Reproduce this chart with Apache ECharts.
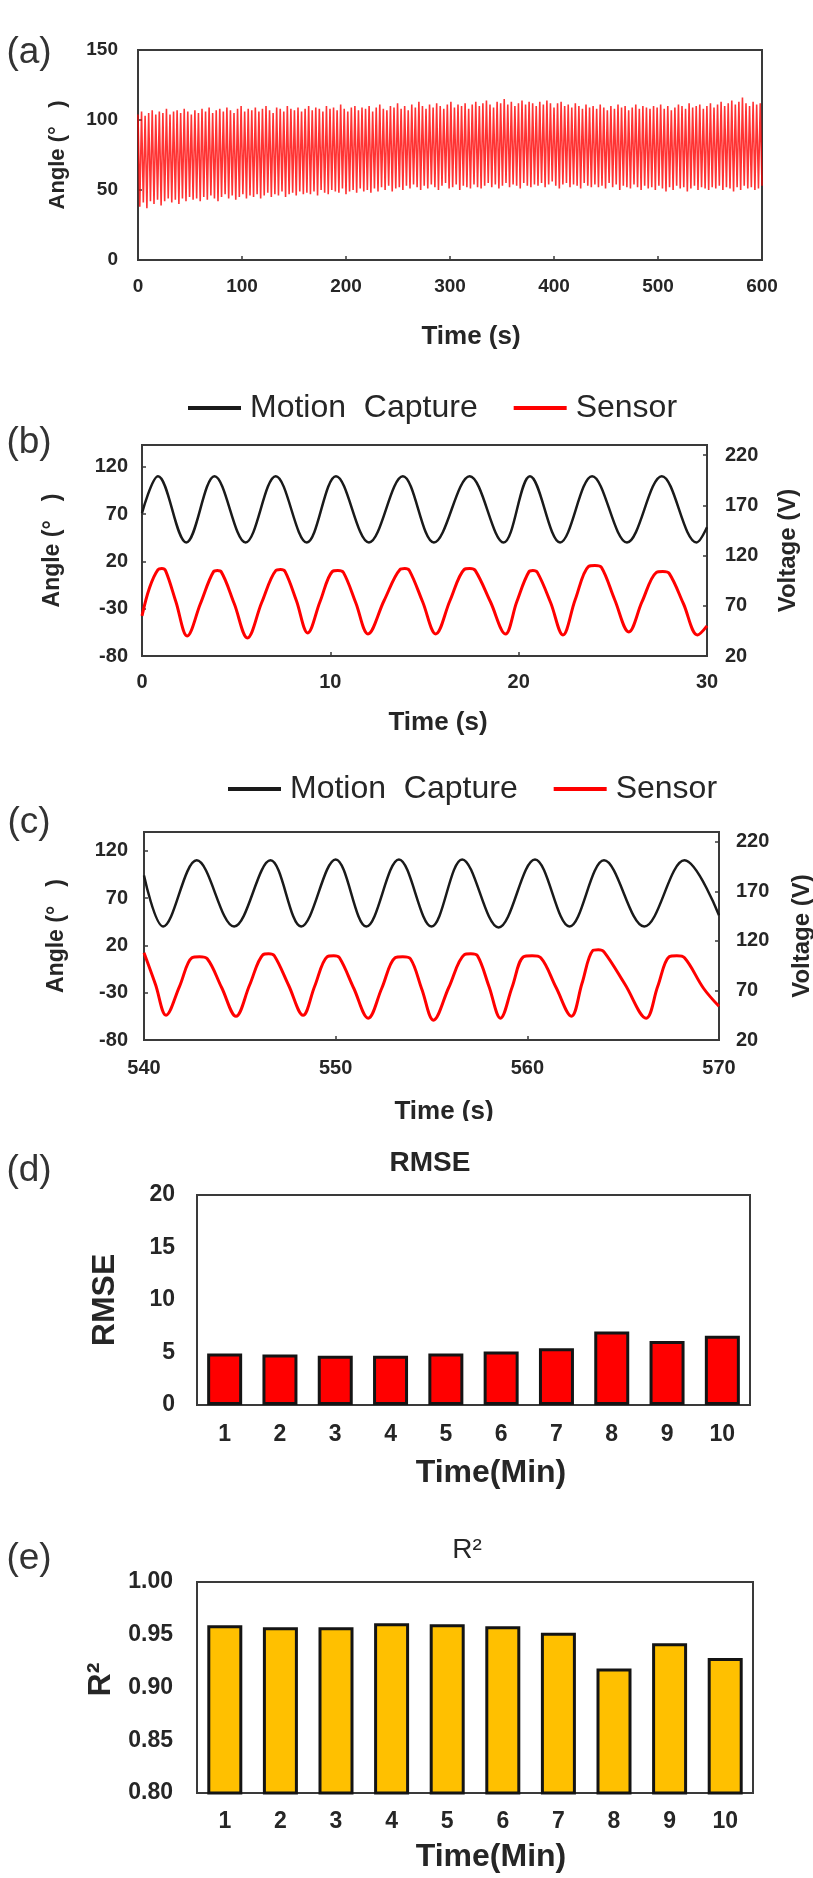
<!DOCTYPE html>
<html><head><meta charset="utf-8">
<script src="https://cdn.jsdelivr.net/npm/echarts@6/dist/echarts.min.js"></script>
<style>html,body{margin:0;padding:0;background:#fff}#c{width:813px;height:1878px}</style>
</head><body><div id="c"></div>
<script>
// ---------- (a) long recording: alternating peak / trough values per cycle ----------
const aDuration = 600;
const aPeaks = [
104,106,103,105,107,104,106,105,108,104,106,107,105,108,106,104,
107,105,108,106,109,105,107,108,106,109,107,105,108,110,106,108,
107,109,106,108,110,107,105,109,108,106,110,108,107,109,106,108,
110,107,109,108,106,110,108,109,107,111,108,106,109,110,107,109,
108,110,106,109,111,108,107,110,109,112,108,110,107,111,109,113,
110,108,111,109,112,110,108,111,113,109,111,110,112,108,111,113,
110,112,114,111,109,113,112,115,111,113,110,112,114,111,113,112,
110,113,111,114,112,109,112,113,110,111,109,112,110,108,111,109,
110,108,111,109,107,110,108,111,109,110,107,109,111,108,110,109,
108,110,109,111,108,110,107,109,111,110,108,112,109,110,111,108,
110,112,109,111,113,110,112,114,111,113,116,112,110,113,111,112];
const aTroughs = [
38,41,37,42,40,43,39,42,44,41,43,40,44,42,45,43,
44,42,45,43,46,44,42,45,47,44,46,43,45,47,44,46,
45,47,44,46,48,45,47,46,49,45,47,48,46,49,47,48,
47,49,46,50,48,47,50,49,48,51,47,49,50,48,51,49,
50,48,51,49,52,50,53,49,51,52,50,53,51,54,52,50,
53,51,54,52,50,53,55,51,52,54,50,53,52,51,54,52,
51,53,55,52,54,51,53,55,52,54,53,51,55,53,52,54,
53,55,52,54,56,53,51,54,55,52,54,53,51,55,53,52,
54,52,53,51,55,52,54,50,53,52,51,54,52,50,53,51,
52,50,53,51,49,52,50,53,51,52,49,51,53,50,52,51,
50,52,51,53,50,52,51,49,52,50,53,51,52,50,51,53];

// ---------- (b) 0-30 s ----------
const bMotionT = [0,0.85,2.35,3.85,5.5,7.1,8.75,10.3,12.05,13.85,15.5,17.4,19.2,20.6,22.2,23.9,25.75,27.6,29.45,30];
const bMotionV = [71,110,40,110,40,110,40,110,40,110,40,110,40,110,40,110,40,110,40,56];
const bSensorT = [0,0.4,0.85,1.05,1.25,1.8,2.4, 3.1,3.8,4.0,4.2,4.9,5.6, 6.35,7.1,7.35,7.6,8.2,8.8,
  9.45,10.1,10.4,10.7,11.35,12.0, 12.85,13.7,13.95,14.2,14.9,15.6, 16.35,17.1,17.4,17.7,18.5,19.3,
  19.9,20.55,20.75,21.0,21.7,22.35, 23.0,23.7,24.05,24.4,25.1,25.85, 26.55,27.3,27.65,28.0,28.75,29.5, 30];
const bSensorV = [60,88,106,107,105,74,40, 72,104,105,104,72,38, 73,105,106,104,75,43,
  74,104,105,103,73,42, 75,106,107,105,74,42, 75,106,107,105,74,42,
  74,104,105,103,73,41, 76,109,110,108,76,44, 74,103,104,102,72,41, 50];

// ---------- (c) 540-570 s ----------
const cMotionT = [540,541.0,542.75,544.7,546.6,548.2,550.0,551.6,553.3,555.0,556.6,558.5,560.4,562.2,564.0,566.1,568.2,570];
const cMotionV = [94,40,110,40,110,40,111,40,111,40,111,39,111,40,110,40,110,52];
const cSensorT = [540,540.6,541.15, 541.85,542.5,542.9,543.3,544.05,544.8, 545.5,546.2,546.5,546.8,547.55,548.3,
  548.9,549.55,549.9,550.2,550.95,551.7, 552.4,553.1,553.5,553.9,554.5,555.1, 555.9,556.7,557.05,557.4,558.0,558.6,
  559.2,559.8,560.25,560.7,561.5,562.3, 562.85,563.4,563.7,564.0,565.1,566.2, 566.8,567.4,567.8,568.2,569.2,570];
const cSensorV = [108,76,45, 74,103,104,102,73,44, 75,106,107,105,75,45,
  74,104,105,103,72,42, 72,103,104,102,71,40, 73,106,107,105,74,42,
  73,104,105,103,73,44, 77,110,111,109,76,42, 74,104,105,103,72,54];

// ---------- (d), (e) ----------
const minutes = ['1','2','3','4','5','6','7','8','9','10'];
const rmse = [4.9,4.8,4.7,4.7,4.9,5.1,5.4,7.0,6.1,6.6];
const r2 = [0.959,0.957,0.957,0.961,0.960,0.958,0.952,0.918,0.942,0.928];

// tick / label texts
const legendNames = ['Motion Capture','Sensor'];
const panelLabels = ['(a)','(b)','(c)','(d)','(e)'];

// ---------- build ----------
const FONT = "'Liberation Sans', Arial, sans-serif";
const TXT = '#262626';
const BORDER = '#3a3a3a';

function pairs(t, v){ return t.map((x,i)=>[x, v[i]]); }
const aHalf = aDuration / (aPeaks.length + aTroughs.length - 1);
const aData = [];
for (let i = 0; i < aPeaks.length; i++) {
  aData.push([2*i*aHalf, aPeaks[i]]);
  aData.push([(2*i+1)*aHalf, aTroughs[i]]);
}

const gridBox = [
  {left:138, top:50,   width:624, height:210},
  {left:142, top:445,  width:565, height:211},
  {left:144, top:832,  width:575, height:208},
  {left:197, top:1195, width:553, height:210},
  {left:197, top:1582, width:556, height:211}
].map(g => Object.assign({show:true, borderColor:BORDER, borderWidth:2, backgroundColor:'transparent', containLabel:false, outerBoundsMode:'none'}, g));

const lab = (size, margin, extra) => Object.assign({fontSize:size, fontWeight:'bold', color:TXT, fontFamily:FONT, margin:margin}, extra||{});
const tick = {inside:true, length:4, lineStyle:{color:BORDER, width:1.5}};
const noLine = {show:false, onZero:false};
const nameStyle = (size, pad, weight) => ({fontSize:size, fontWeight:weight||'bold', color:TXT, fontFamily:FONT, padding:pad});

const xAxis = [
  {gridIndex:0, type:'value', min:0, max:600, interval:100, axisLine:noLine, axisTick:tick, splitLine:{show:false},
   axisLabel:lab(19,17), name:'Time (s)', nameLocation:'middle', nameGap:64, nameTextStyle:nameStyle(26,[0,0,0,42])},
  {gridIndex:1, type:'value', min:0, max:30, interval:10, axisLine:noLine, axisTick:tick, splitLine:{show:false},
   axisLabel:lab(20,16), name:'Time (s)', nameLocation:'middle', nameGap:54, nameTextStyle:nameStyle(26,[0,0,0,27])},
  {gridIndex:2, type:'value', min:540, max:570, interval:10, axisLine:noLine, axisTick:tick, splitLine:{show:false},
   axisLabel:lab(20,18), name:'Time (s)', nameLocation:'middle', nameGap:59, nameTextStyle:nameStyle(26,[0,0,0,25])},
  {gridIndex:3, type:'category', data:minutes, boundaryGap:true, axisLine:noLine, axisTick:{show:false},
   axisLabel:lab(23,18), name:'Time(Min)', nameLocation:'middle', nameGap:52, nameTextStyle:nameStyle(32,[0,0,0,35])},
  {gridIndex:4, type:'category', data:minutes, boundaryGap:true, axisLine:noLine, axisTick:{show:false},
   axisLabel:lab(23,17), name:'Time(Min)', nameLocation:'middle', nameGap:48, nameTextStyle:nameStyle(32,[0,0,0,32])}
];
const yAxis = [
  {gridIndex:0, type:'value', min:0, max:150, interval:50, axisLine:noLine, axisTick:tick, splitLine:{show:false},
   axisLabel:lab(19,20), name:'Angle (°   )', nameLocation:'middle', nameRotate:90, nameGap:69, nameTextStyle:nameStyle(22,[0,0,0,0])},
  {gridIndex:1, type:'value', min:-80, max:143, interval:50, axisLine:noLine, axisTick:tick, splitLine:{show:false},
   axisLabel:lab(20,14,{showMaxLabel:false}), name:'Angle (°   )', nameLocation:'middle', nameRotate:90, nameGap:78, nameTextStyle:nameStyle(23,[0,0,0,0])},
  {gridIndex:1, type:'value', position:'right', min:20, max:230, interval:50, axisLine:noLine, axisTick:tick, splitLine:{show:false},
   axisLabel:lab(20,18,{showMaxLabel:false}), name:'Voltage (V)', nameLocation:'middle', nameRotate:90, nameGap:69, nameTextStyle:nameStyle(24,[0,0,0,0])},
  {gridIndex:2, type:'value', min:-80, max:140, interval:50, axisLine:noLine, axisTick:tick, splitLine:{show:false},
   axisLabel:lab(20,16,{showMaxLabel:false}), name:'Angle (°   )', nameLocation:'middle', nameRotate:90, nameGap:76, nameTextStyle:nameStyle(23,[0,0,0,0])},
  {gridIndex:2, type:'value', position:'right', min:20, max:230, interval:50, axisLine:noLine, axisTick:tick, splitLine:{show:false},
   axisLabel:lab(20,17,{showMaxLabel:false}), name:'Voltage (V)', nameLocation:'middle', nameRotate:90, nameGap:71, nameTextStyle:nameStyle(24,[0,0,0,0])},
  {gridIndex:3, type:'value', min:0, max:20, interval:5, axisLine:noLine, axisTick:tick, splitLine:{show:false},
   axisLabel:lab(23,22), name:'RMSE', nameLocation:'middle', nameRotate:90, nameGap:76, nameTextStyle:nameStyle(32,[0,0,0,0])},
  {gridIndex:4, type:'value', min:0.8, max:1.0, interval:0.05, axisLine:noLine, axisTick:tick, splitLine:{show:false},
   axisLabel:lab(23,24,{formatter:v=>v.toFixed(2)}), name:'R²', nameLocation:'middle', nameRotate:90, nameGap:76, nameTextStyle:nameStyle(32,[0,0,0,16])}
];

const lineS = (name, x, y, data, color, width) => ({
  name, type:'line', xAxisIndex:x, yAxisIndex:y, data, showSymbol:false, symbol:'none', smooth:0.36,
  color, itemStyle:{color}, lineStyle:{color, width}, silent:true, animation:false, clip:true
});

const series = [
  {name:'Long', type:'line', xAxisIndex:0, yAxisIndex:0, data:aData, showSymbol:false, symbol:'none',
   lineStyle:{color:'rgba(255,0,0,0.8)', width:1.6}, silent:true, animation:false, sampling:null},
  lineS(legendNames[0], 1, 1, pairs(bMotionT, bMotionV), '#1a1a1a', 2.5),
  lineS(legendNames[1], 1, 2, pairs(bSensorT, bSensorV), '#ff0000', 3),
  lineS(legendNames[0], 2, 3, pairs(cMotionT, cMotionV), '#1a1a1a', 2.5),
  lineS(legendNames[1], 2, 4, pairs(cSensorT, cSensorV), '#ff0000', 3),
  {name:'RMSE', type:'bar', xAxisIndex:3, yAxisIndex:5, data:rmse, barWidth:35,
   itemStyle:{color:'#ff0000', borderColor:'#141414', borderWidth:3}, silent:true, animation:false},
  {name:'R2', type:'bar', xAxisIndex:4, yAxisIndex:6, data:r2, barWidth:35,
   itemStyle:{color:'#ffc000', borderColor:'#141414', borderWidth:3}, silent:true, animation:false}
];

const legendBase = (left, top) => ({
  left, top, data:legendNames, icon:'rect', itemWidth:53, itemHeight:4, itemGap:36, selectedMode:false,
  formatter: n => n === 'Motion Capture' ? 'Motion  Capture' : n,
  textStyle:{fontSize:32, color:TXT, fontFamily:FONT, padding:[0,0,0,4]}
});

const letterPos = [[29,53],[29,443],[29,823],[29,1171],[29,1559]];
const graphic = panelLabels.map((t,i)=>({
  type:'text', x:letterPos[i][0], y:letterPos[i][1], z:50,
  style:{text:t, fontSize:37, fontFamily:FONT, fill:'#333', align:'center', verticalAlign:'middle', textAlign:'center', textVerticalAlign:'middle'}
}));
graphic.push({type:'text', x:430, y:1163, z:50,
  style:{text:'RMSE', fontSize:28, fontWeight:'bold', fontFamily:FONT, fill:TXT, align:'center', verticalAlign:'middle', textAlign:'center', textVerticalAlign:'middle'}});
graphic.push({type:'text', x:467, y:1550, z:50,
  style:{text:'R²', fontSize:28, fontFamily:FONT, fill:TXT, align:'center', verticalAlign:'middle', textAlign:'center', textVerticalAlign:'middle'}});
// the reference's (c) x-axis title is clipped at its bottom edge
graphic.push({type:'rect', z:60, shape:{x:370, y:1121, width:160, height:20}, style:{fill:'#ffffff'}});

const chart = echarts.init(document.getElementById('c'), null, {renderer:'canvas', width:813, height:1878});
chart.setOption({
  animation:false,
  backgroundColor:'#ffffff',
  textStyle:{fontFamily:FONT},
  grid:gridBox, xAxis, yAxis, series,
  legend:[legendBase(183,387), legendBase(223,768)],
  graphic
});
</script></body></html>
